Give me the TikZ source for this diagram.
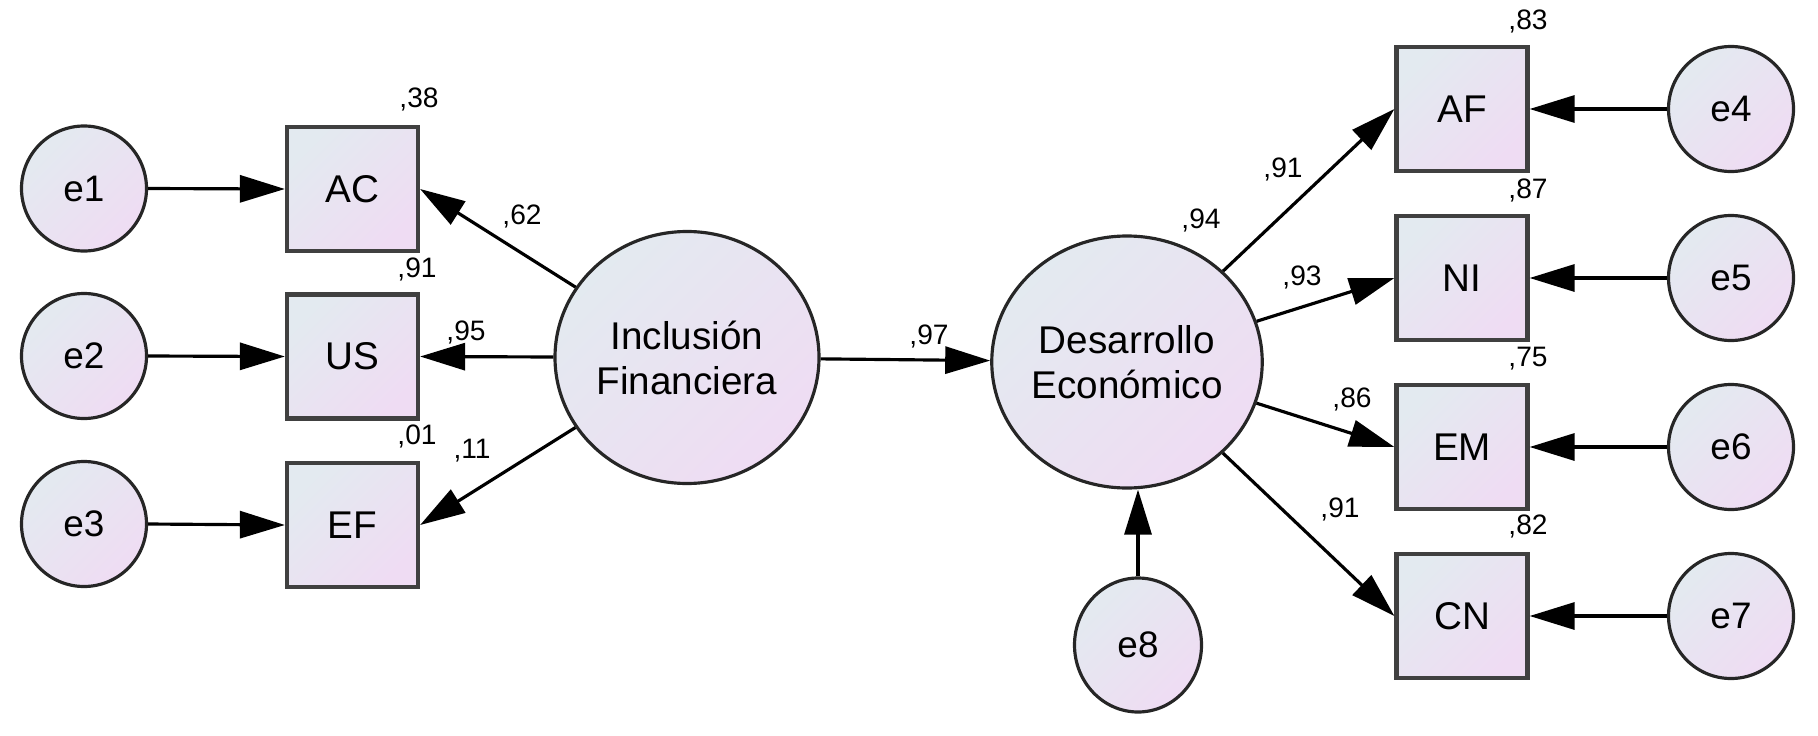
\documentclass[tikz,border=0pt]{standalone}
\usepackage{fontspec}
\setmainfont{Liberation Sans}
\usetikzlibrary{shapes.geometric,arrows.meta}
\definecolor{fillA}{HTML}{E3EAF0}
\definecolor{fillB}{HTML}{EFDCF3}
\definecolor{edgegray}{HTML}{404040}
\tikzset{
  grad/.style={top color=fillA, bottom color=fillB, shading angle=45},
  errc/.style={ellipse, draw=black!85, line width=0.9pt, grad, inner sep=0pt,
    minimum width=1.25cm, minimum height=1.25cm, font=\fontsize{10.5}{12}\selectfont},
  latent/.style={ellipse, draw=black!85, line width=0.9pt, grad, inner sep=0pt,
    align=center, font=\fontsize{11}{12.8}\selectfont},
  obs/.style={rectangle, draw=edgegray, line width=1.2pt, grad, inner sep=0pt,
    minimum width=1.31cm, minimum height=1.24cm, font=\fontsize{11}{13}\selectfont},
  val/.style={inner sep=0pt, font=\fontsize{8}{9}\selectfont},
  arr/.style={line width=0.9pt, -{Triangle[length=4.5mm,width=2.7mm]}}
}
\begin{document}
\begin{tikzpicture}
\useasboundingbox (0,0) rectangle (18.18,-7.36);
% left side
\node[errc] (e1) at (0.84,-1.885) {e1};
\node[errc] (e2) at (0.84,-3.56) {e2};
\node[errc] (e3) at (0.84,-5.24) {e3};
\node[obs] (AC) at (3.525,-1.89) {AC};
\node[obs] (US) at (3.525,-3.565) {US};
\node[obs] (EF) at (3.525,-5.25) {EF};
\node[latent, minimum width=2.64cm, minimum height=2.52cm] (IF) at (6.87,-3.575) {Inclusión\\Financiera};
% right side
\node[latent, minimum width=2.62cm, minimum height=2.52cm] (DE) at (11.27,-3.62) {Desarrollo\\Económico};
\node[errc, minimum width=1.27cm, minimum height=1.34cm] (e8) at (11.38,-6.45) {e8};
\node[obs] (AF) at (14.62,-1.09) {AF};
\node[obs] (NI) at (14.62,-2.78) {NI};
\node[obs] (EM) at (14.62,-4.47) {EM};
\node[obs] (CN) at (14.62,-6.16) {CN};
\node[errc] (e4) at (17.31,-1.09) {e4};
\node[errc] (e5) at (17.31,-2.78) {e5};
\node[errc] (e6) at (17.31,-4.47) {e6};
\node[errc] (e7) at (17.31,-6.16) {e7};
% connectors
\draw[arr] (e1.east) -- (AC.west);
\draw[arr] (e2.east) -- (US.west);
\draw[arr] (e3.east) -- (EF.west);
\draw[arr] (IF) -- (AC.east);
\draw[arr] (IF) -- (US.east);
\draw[arr] (IF) -- (EF.east);
\draw[arr] (IF) -- (DE);
\draw[arr] (e8.north) -- (e8.north |- DE.south);
\draw[arr] (DE) -- (AF.west);
\draw[arr] (DE) -- (NI.west);
\draw[arr] (DE) -- (EM.west);
\draw[arr] (DE) -- (CN.west);
\draw[arr] (e4.west) -- (AF.east);
\draw[arr] (e5.west) -- (NI.east);
\draw[arr] (e6.west) -- (EM.east);
\draw[arr] (e7.west) -- (CN.east);
% values
\node[val] (v38) at (4.19,-0.99) {,38};
\node[val] (v91a) at (4.17,-2.69) {,91};
\node[val] (v01) at (4.17,-4.36) {,01};
\node[val] (v62) at (5.22,-2.16) {,62};
\node[val] (v95) at (4.66,-3.32) {,95};
\node[val] (v11) at (4.72,-4.51) {,11};
\node[val] (v97) at (9.29,-3.36) {,97};
\node[val] (v94) at (12.01,-2.20) {,94};
\node[val] (v83) at (15.28,-0.21) {,83};
\node[val] (v87) at (15.28,-1.90) {,87};
\node[val] (v75) at (15.28,-3.59) {,75};
\node[val] (v82) at (15.28,-5.26) {,82};
\node[val] (v91b) at (12.83,-1.69) {,91};
\node[val] (v93) at (13.02,-2.77) {,93};
\node[val] (v86) at (13.52,-3.99) {,86};
\node[val] (v91c) at (13.40,-5.09) {,91};
\end{tikzpicture}
\end{document}
